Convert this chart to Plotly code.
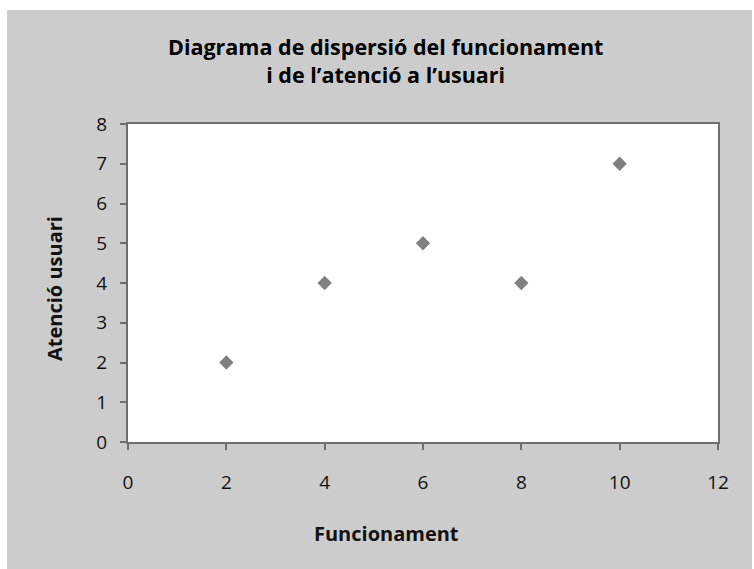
import plotly.graph_objects as go

# Scatter data: performance vs. user attention scores
funcionament = [2, 4, 6, 8, 10]
atencio_usuari = [2, 4, 5, 4, 7]

x_ticks = [0, 2, 4, 6, 8, 10, 12]
y_ticks = [0, 1, 2, 3, 4, 5, 6, 7, 8]

W, H = 754, 569
L, R, T, B = 128, 36, 124, 127
PW, PH = W - L - R, H - T - B

FONT = "Open Sans, Lato, sans-serif"
GRAY_BG = "#cccccc"
AXIS = "#6e6e6e"


def px_x(px):
    return (px - L) / PW


def px_y(py):
    return (H - B - py) / PH


fig = go.Figure()
fig.add_trace(go.Scatter(
    x=funcionament, y=atencio_usuari, mode="markers",
    marker=dict(symbol="diamond", size=11, color="#808080"),
    hoverinfo="x+y", showlegend=False,
))

axis_common = dict(
    showgrid=False, zeroline=False, showline=True, linecolor=AXIS, linewidth=2,
    mirror=True, ticks="outside", ticklen=6, tickwidth=1.5, tickcolor=AXIS,
    tickfont=dict(family=FONT, size=19, color="#111111"),
    fixedrange=True,
)

fig.update_xaxes(range=[0, 12], tickvals=x_ticks, ticklabelstandoff=16, **axis_common)
fig.update_yaxes(range=[0, 8], tickvals=y_ticks, ticklabelstandoff=9, **axis_common)

# white strips around the gray chart panel
fig.add_shape(type="rect", xref="paper", yref="paper",
              x0=px_x(-5), x1=px_x(W + 5), y0=px_y(10), y1=px_y(-5),
              fillcolor="white", line=dict(width=0), layer="above")
fig.add_shape(type="rect", xref="paper", yref="paper",
              x0=px_x(-5), x1=px_x(7), y0=px_y(H + 5), y1=px_y(-5),
              fillcolor="white", line=dict(width=0), layer="above")
fig.add_shape(type="rect", xref="paper", yref="paper",
              x0=px_x(752), x1=px_x(W + 5), y0=px_y(H + 5), y1=px_y(-5),
              fillcolor="white", line=dict(width=0), layer="above")

title_font = dict(family=FONT, size=21.5, color="#000000", weight=700)
label_font = dict(family=FONT, size=20, color="#111111", weight=700)
fig.add_annotation(text="Diagrama de dispersió del funcionament<br>i de l’atenció a l’usuari",
                   x=px_x(385), y=px_y(61), xref="paper", yref="paper",
                   showarrow=False, font=title_font, align="center",
                   xanchor="center", yanchor="middle")
fig.add_annotation(text="Funcionament",
                   x=px_x(386), y=px_y(533), xref="paper", yref="paper",
                   showarrow=False, font=label_font, xanchor="center", yanchor="middle")
fig.add_annotation(text="Atenció usuari", textangle=-90,
                   x=px_x(54), y=px_y(289), xref="paper", yref="paper",
                   showarrow=False, font=label_font, xanchor="center", yanchor="middle")

fig.update_layout(
    width=W, height=H,
    margin=dict(l=L, r=R, t=T, b=B),
    paper_bgcolor=GRAY_BG, plot_bgcolor="white",
    font=dict(family=FONT),
)

fig.write_html("out.html", config={"displayModeBar": False})
